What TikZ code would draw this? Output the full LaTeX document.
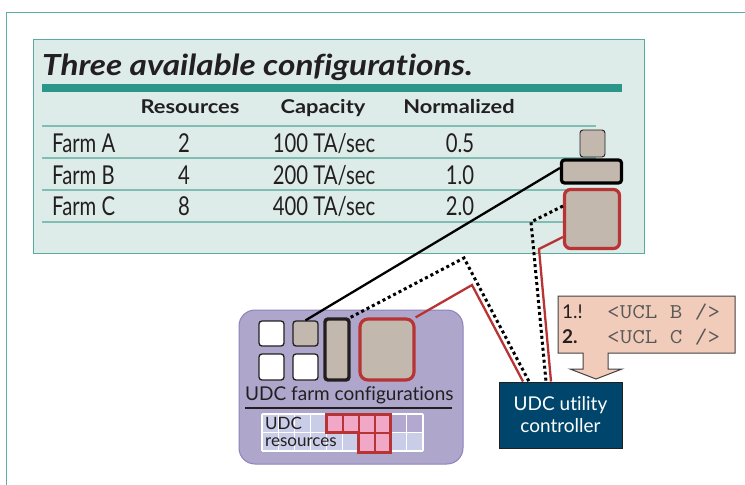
\documentclass[tikz,border=0pt]{standalone}
\usepackage{fontspec}
\setmainfont{Lato}[Ligatures=NoCommon]
\newfontfamily\cond{Lato}[FakeStretch=0.78,Ligatures=NoCommon]
\newfontfamily\widef{Lato}[FakeStretch=1.15,Ligatures=NoCommon]
\newfontfamily\monof{Latin Modern Mono}[FakeStretch=1.16]
\definecolor{frameteal}{HTML}{5BB0A6}
\definecolor{tblfill}{HTML}{DDECE8}
\definecolor{tblborder}{HTML}{5AAAA0}
\definecolor{barteal}{HTML}{2A968A}
\definecolor{rowline}{HTML}{80BDB5}
\definecolor{boxgray}{HTML}{C2B8AE}
\definecolor{cfgred}{HTML}{B83434}
\definecolor{panel}{HTML}{AFA6CC}
\definecolor{panelborder}{HTML}{8C82BC}
\definecolor{gridlight}{HTML}{C9CDE8}
\definecolor{gridpurple}{HTML}{B3A9D0}
\definecolor{pinkcell}{HTML}{F0A8C6}
\definecolor{navy}{HTML}{00466C}
\definecolor{peach}{HTML}{F2CCBA}
\definecolor{ink}{HTML}{231F20}
\begin{document}
\begin{tikzpicture}[x=1pt,y=-1pt,
  cfgbox/.style={draw, fill=boxgray, rounded corners=3pt, inner sep=0pt},
  whitebox/.style={draw=ink, fill=white, line width=1.3pt, rounded corners=3pt, inner sep=0pt},
  hdr/.style={font=\widef\bfseries\fontsize{19}{20}\selectfont, text=ink, anchor=base},
  cell/.style={font=\cond\fontsize{26}{27}\selectfont, text=ink, anchor=base},
  blackln/.style={line width=2.3pt, black},
  dotln/.style={line width=3pt, black, dash pattern=on 3pt off 3pt},
  redln/.style={line width=2.3pt, cfgred}
]
\useasboundingbox (0,0) rectangle (745,485);
% outer frame
\draw[frameteal, line width=1.2pt] (745,12.7) -- (6.5,12.7) -- (6.5,485);
% table
\draw[tblborder, fill=tblfill, line width=1pt] (33,39.5) rectangle (644,253);
\node[anchor=base west, inner sep=0pt, text=ink, font=\widef\bfseries\itshape\fontsize{29}{30}\selectfont] (title) at (42,75) {Three available configurations.};
\fill[barteal] (42,84) rectangle (622,92);
\node[hdr] (hres) at (190,113) {Resources};
\node[hdr] (hcap) at (323,113) {Capacity};
\node[hdr] (hnorm) at (459,113) {Normalized};
\foreach \yy in {126,158,190,222} \draw[rowline, line width=2pt] (42,\yy) -- (596,\yy);
\foreach \nm/\yy/\rr/\cc/\nn in {A/152/2/100/0.5, B/184/4/200/1.0, C/215/8/400/2.0}{
  \node[cell, anchor=base west, inner sep=0pt] (farm\nm) at (52,\yy) {Farm \nm};
  \node[cell] (res\nm) at (184,\yy) {\rr};
  \node[cell] (cap\nm) at (324,\yy) {\cc\ TA/sec};
  \node[cell] (norm\nm) at (460,\yy) {\nn};
}
% stacked configuration boxes
\node[cfgbox, draw=ink, line width=0.9pt, minimum width=25pt, minimum height=27pt] (boxA) at (592.5,143.5) {};
\node[cfgbox, draw=black, line width=3.2pt, minimum width=60pt, minimum height=23pt] (boxB) at (591.5,171.5) {};
\node[cfgbox, draw=cfgred, line width=3.2pt, minimum width=55pt, minimum height=59pt, rounded corners=6pt] (boxC) at (592,219) {};
% lower panel
\draw[panelborder, fill=panel, line width=1pt, rounded corners=16pt] (239,310) rectangle (463,464);
\node[whitebox, minimum width=25pt, minimum height=25pt] (w1) at (271.5,333.5) {};
\node[whitebox, minimum width=25pt, minimum height=26pt] (w2) at (271.5,367) {};
\node[cfgbox, draw=ink, line width=1.3pt, minimum width=25pt, minimum height=25pt] (g1) at (305.5,333.5) {};
\node[whitebox, minimum width=25pt, minimum height=26pt] (w3) at (305.5,367) {};
\node[cfgbox, draw=ink, line width=3.4pt, minimum width=24pt, minimum height=61pt] (tb) at (337,349.5) {};
\node[cfgbox, draw=cfgred, line width=3.2pt, minimum width=54pt, minimum height=61pt, rounded corners=8pt] (rb) at (387,349.5) {};
\node[anchor=base west, inner sep=0pt, text=ink, font=\fontsize{19}{20}\selectfont] (farmcfg) at (245,400) {UDC farm configurations};
\draw[ink, line width=1.1pt] (245,408) -- (452,408);
% resource grid
\foreach \i in {0,...,9}{
  \pgfmathsetmacro{\xa}{262+16.1*\i}
  \fill[gridlight] (\xa,432.5) rectangle ++(16.1,18.5);
  \fill[gridlight] (\xa,414) rectangle ++(16.1,18.5);
}
\foreach \i in {8,9}{
  \pgfmathsetmacro{\xa}{262+16.1*\i}
  \fill[gridpurple] (\xa,414) rectangle ++(16.1,18.5);
}
\foreach \i in {0,...,10}{
  \pgfmathsetmacro{\xa}{262+16.1*\i}
  \draw[white, line width=1.1pt] (\xa,414) -- (\xa,451);
}
\draw[white, line width=1.1pt] (262,414) -- (423,414) (262,432.5) -- (423,432.5) (262,451) -- (423,451);
\foreach \i in {4,...,7}{
  \pgfmathsetmacro{\xa}{262+16.1*\i}
  \draw[cfgred, fill=pinkcell, line width=2pt] (\xa,414) rectangle ++(16.1,18.5);
}
\foreach \i in {6,7}{
  \pgfmathsetmacro{\xa}{262+16.1*\i}
  \draw[cfgred, fill=pinkcell, line width=2pt] (\xa,432.5) rectangle ++(16.1,19.5);
}
\draw[cfgred, line width=3pt] (326.4,414) -- (390.8,414) -- (390.8,452) -- (358.6,452) -- (358.6,432.5) -- (326.4,432.5) -- cycle;
\node[anchor=base west, inner sep=0pt, text=ink, font=\fontsize{17}{18}\selectfont] (udcr1) at (265,429) {UDC};
\node[anchor=base west, inner sep=0pt, text=ink, font=\fontsize{17}{18}\selectfont] (udcr2) at (265,446.5) {resources};
% controller
\node[draw=ink, fill=navy, line width=1pt, minimum width=123pt, minimum height=66pt, inner sep=0pt,
  text=white, align=center, font=\fontsize{19}{22}\selectfont] (ctrl) at (560.5,415) {UDC utility\\controller};
% callout
\draw[ink!85, fill=peach, line width=1pt] (558,296) -- (735,296) -- (735,353) -- (608,353) -- (608,369) -- (622,369) -- (596,379) -- (570,369) -- (583,369) -- (583,353) -- (558,353) -- cycle;
\node[anchor=base west, inner sep=0pt, text=ink, font=\fontsize{19}{19}\selectfont] (n1) at (562,318) {1.!};
\node[anchor=base west, inner sep=0pt, text=ink, font=\bfseries\fontsize{19}{19}\selectfont] (n2) at (562,343) {2.};
\node[anchor=base west, inner sep=0pt, text=black!65, font=\monof\fontsize{21}{21}\selectfont] (u1) at (607,318) {<UCL B />};
\node[anchor=base west, inner sep=0pt, text=black!65, font=\monof\fontsize{21}{21}\selectfont] (u2) at (607,343) {<UCL C />};
% connectors
\coordinate (d1) at (531,222);
\coordinate (d2) at (464,258);
\coordinate (r1) at (539,249);
\coordinate (r2) at (472,285);
\draw[blackln] (boxB.west |- 0,168) -- (g1.north);
\draw[dotln] (boxC.west |- 0,206) -- (d1) -- (ctrl.north -| 546,0);
\draw[dotln] (tb.north east) -- (d2) -- (ctrl.north -| 529,0);
\draw[redln] (boxC.west |- 0,237) -- (r1) -- (ctrl.north -| 551,0);
\draw[redln] (rb.north east) -- (r2) -- (ctrl.north -| 523,0);
\end{tikzpicture}
\end{document}
